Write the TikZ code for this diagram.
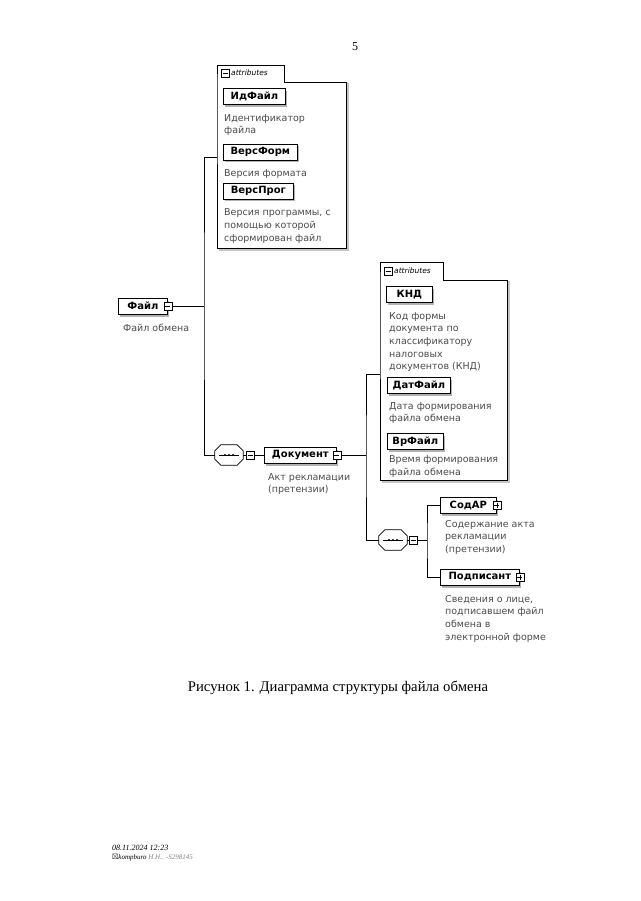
\documentclass[tikz,border=0pt]{standalone}
\usepackage{amssymb}
\usepackage{fontspec}
\setmainfont{Liberation Serif}
\setsansfont{DejaVu Sans}
\usetikzlibrary{positioning, shadows, calc}

% octagon of a sequence compositor
\newcommand{\seqoct}[1]{%
  ([xshift=6pt]#1.north west) -- ([xshift=-6pt]#1.north east) -- ([yshift=-6pt]#1.north east)
  -- ([yshift=6pt]#1.south east) -- ([xshift=-6pt]#1.south east) -- ([xshift=6pt]#1.south west)
  -- ([yshift=6pt]#1.south west) -- ([yshift=-6pt]#1.north west) -- cycle}

\begin{document}
\begin{tikzpicture}[x=1pt, y=-1pt,
    elem/.style={draw, fill=white, line width=0.7pt, font=\sffamily\bfseries\fontsize{10}{12}\selectfont,
      inner sep=0pt, minimum height=16pt, anchor=west,
      drop shadow={shadow xshift=2pt, shadow yshift=-2.5pt, fill=gray!60, opacity=1}},
    desc/.style={font=\sffamily\fontsize{9.5}{12.7}\selectfont, text=black!70, align=left,
      anchor=north west, inner sep=0pt},
    sqminus/.style={draw, fill=white, minimum size=8pt, inner sep=0pt,
      path picture={\draw ([xshift=1.5pt]path picture bounding box.west) -- ([xshift=-1.5pt]path picture bounding box.east);}},
    sqplus/.style={draw, fill=white, minimum size=8pt, inner sep=0pt,
      path picture={\draw ([xshift=1.5pt]path picture bounding box.west) -- ([xshift=-1.5pt]path picture bounding box.east);
        \draw ([yshift=-1.5pt]path picture bounding box.north) -- ([yshift=1.5pt]path picture bounding box.south);}},
    tabtxt/.style={font=\sffamily\itshape\fontsize{7.5}{9}\selectfont, anchor=west, inner sep=0pt},
    seqbox/.style={minimum width=28pt, minimum height=20pt, inner sep=0pt},
    wire/.style={line width=0.7pt}]
  \useasboundingbox (0,0) rectangle (640,901);

  % page number
  \node[font=\fontsize{12}{14}\selectfont] (pnum) at (355,47) {5};

  % attributes of the root
  \draw[gray!45, line width=1.5pt] (286,84) -- (348,84) -- (348,250) -- (219,250);
  \draw[wire, fill=white] (217,82) -- (217,65) -- (284,65) -- (284,82) -- (346,82) -- (346,248) -- (217,248) -- cycle;
  \node[sqminus] (tabAsq) at (225,73) {};
  \node[tabtxt] (tabA) at (231,73) {attributes};
  \coordinate (attrA) at (217,157);

  \node[elem, minimum width=62pt] (idfajl) at (223,96.5) {ИдФайл};
  \node[desc] (idfajld) at (224,114) {Идентификатор\\файла};
  \node[elem, minimum width=74pt] (versform) at (223,152) {ВерсФорм};
  \node[desc] (versformd) at (224,169.5) {Версия формата};
  \node[elem, minimum width=70pt] (versprog) at (223,191) {ВерсПрог};
  \node[desc] (versprogd) at (224,208.5) {Версия программы, с\\помощью которой\\сформирован файл};

  % root element
  \node[elem, minimum width=49pt] (fajl) at (118,306) {Файл\hspace{6pt}};
  \node[sqminus] (fajlsq) at (fajl.east) {};
  \node[desc] (fajld) at (123,323.5) {Файл обмена};
  \coordinate (jA) at (204,306);

  % first sequence
  \node[seqbox] (seqA) at (229,455) {};
  \fill[gray!45, shift={(2pt,-2pt)}] \seqoct{seqA};
  \draw[wire, fill=white] \seqoct{seqA};
  \draw ([xshift=4pt]seqA.west) -- ([xshift=-4pt]seqA.east);
  \foreach \d in {-4,0,4} \fill ([xshift=\d pt]seqA.center) circle (1.1pt);
  \node[sqminus] (seqAsq) at (250,455) {};

  % document element
  \node[elem, minimum width=72pt] (dokument) at (264,455) {Документ\hspace{7pt}};
  \node[sqminus] (doksq) at (dokument.east) {};
  \node[desc] (dokumentd) at (268,473) {Акт рекламации\\(претензии)};
  \coordinate (jB) at (366,455);

  % attributes of the document
  \draw[gray!45, line width=1.5pt] (445,282) -- (509,282) -- (509,482) -- (382,482);
  \draw[wire, fill=white] (380,280) -- (380,262) -- (443,262) -- (443,280) -- (507,280) -- (507,480) -- (380,480) -- cycle;
  \node[sqminus] (tabBsq) at (388,271) {};
  \node[tabtxt] (tabB) at (394,271) {attributes};
  \coordinate (attrB) at (380,374);

  \node[elem, minimum width=46pt] (knd) at (386,294.5) {КНД};
  \node[desc] (kndd) at (389,312) {Код формы\\документа по\\классификатору\\налоговых\\документов (КНД)};
  \node[elem, minimum width=63pt] (datfajl) at (387,385.5) {ДатФайл};
  \node[desc] (datfajld) at (389,402) {Дата формирования\\файла обмена};
  \node[elem, minimum width=56pt] (vrfajl) at (387,441.5) {ВрФайл};
  \node[desc] (vrfajld) at (389,455.5) {Время формирования\\файла обмена};

  % second sequence
  \node[seqbox] (seqB) at (393,540) {};
  \fill[gray!45, shift={(2pt,-2pt)}] \seqoct{seqB};
  \draw[wire, fill=white] \seqoct{seqB};
  \draw ([xshift=4pt]seqB.west) -- ([xshift=-4pt]seqB.east);
  \foreach \d in {-4,0,4} \fill ([xshift=\d pt]seqB.center) circle (1.1pt);
  \node[sqminus] (seqBsq) at (413,540) {};
  \coordinate (jC) at (427,540);

  % children of the document
  \node[elem, minimum width=56pt] (sodar) at (440,505) {СодАР\hspace{7pt}};
  \node[sqplus] (sodarsq) at (sodar.east) {};
  \node[desc] (sodard) at (445,520) {Содержание акта\\рекламации\\(претензии)};
  \node[elem, minimum width=79pt] (podpisant) at (440,577) {Подписант\hspace{7pt}};
  \node[sqplus] (podpisantsq) at (podpisant.east) {};
  \node[desc] (podpisantd) at (445,595) {Сведения о лице,\\подписавшем файл\\обмена в\\электронной форме};

  % connectors
  \draw[wire] (attrA) -| (jA) |- (seqA.west);
  \draw[wire] (fajlsq.east) -- (jA);
  \draw[wire] (seqA.east) -- (seqAsq.west);
  \draw[wire] (seqAsq.east) -- (dokument.west);
  \draw[wire] (doksq.east) -- (jB);
  \draw[wire] (attrB) -| (jB) |- (seqB.west);
  \draw[wire] (seqB.east) -- (seqBsq.west);
  \draw[wire] (seqBsq.east) -- (jC);
  \draw[wire] (sodar.west) -| (jC) |- (podpisant.west);

  % caption
  \node[font=\fontsize{14.7}{18}\selectfont] (caption) at (338,688) {Рисунок 1. Диаграмма структуры файла обмена};

  % stamp
  \node[anchor=west, inner sep=0pt, font=\itshape\fontsize{8}{10}\selectfont] (stamp) at (112,848) {08.11.2024 12:23};
  \node[anchor=west, inner sep=0pt, font=\itshape\fontsize{7}{9}\selectfont] (stamp2) at (112,858) {$\boxtimes$kompburo \textcolor{gray}{Н.Н.. -S298145}};
\end{tikzpicture}
\end{document}
